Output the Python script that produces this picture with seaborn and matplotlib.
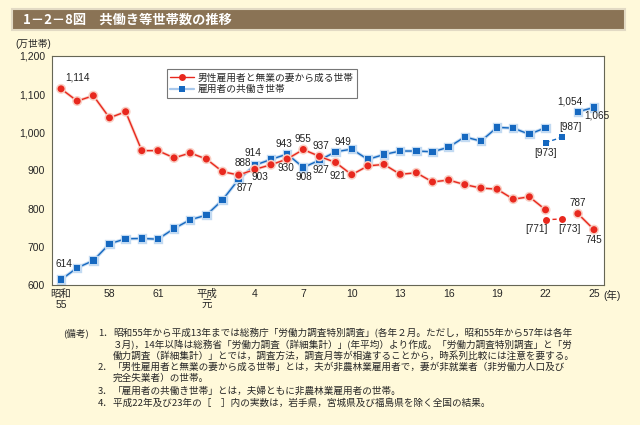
import seaborn as sns
import matplotlib.pyplot as plt
import matplotlib.patheffects as pe
from matplotlib.lines import Line2D
from matplotlib.patches import Rectangle
import pandas as pd
import numpy as np

# 年 (昭和55年=1980 ～ 平成25年=2013)
years = list(range(1980, 2014))

# 男性雇用者と無業の妻から成る世帯 (万世帯)  2011年は全国値なし
sengyo = [1114, 1082, 1096, 1038, 1054, 952, 952, 933, 946, 930,
          897, 888, 903, 915, 930, 955, 937, 921, 889, 912,
          916, 890, 894, 870, 875, 863, 854, 851, 825, 831,
          797, np.nan, 787, 745]

# 雇用者の共働き世帯 (万世帯)
tomo = [614, 645, 664, 708, 721, 722, 720, 748, 771, 783,
        823, 877, 914, 929, 943, 908, 927, 949, 956, 929,
        942, 951, 951, 949, 961, 988, 977, 1013, 1011, 995,
        1012, np.nan, 1054, 1065]

# 岩手・宮城・福島を除く全国の結果 [ ]
years_ex = [2010, 2011]
sengyo_ex = [771, 773]
tomo_ex = [973, 987]

tick_years = [1980, 1983, 1986, 1989, 1992, 1995, 1998, 2001, 2004, 2007, 2010, 2013]
tick_labels = ['昭和\n55', '58', '61', '平成\n元', '4', '7', '10', '13', '16', '19', '22', '25']

series_names = ['男性雇用者と無業の妻から成る世帯', '雇用者の共働き世帯']

notes = [
    ('(備考)', '1．', '昭和55年から平成13年までは総務庁「労働力調査特別調査」(各年２月。ただし，昭和55年から57年は各年'),
    ('', '', '３月)，14年以降は総務省「労働力調査（詳細集計）」(年平均）より作成。「労働力調査特別調査」と「労'),
    ('', '', '働力調査（詳細集計）」とでは，調査方法，調査月等が相違することから，時系列比較には注意を要する。'),
    ('', '2．', '「男性雇用者と無業の妻から成る世帯」とは，夫が非農林業雇用者で，妻が非就業者（非労働力人口及び'),
    ('', '', '完全失業者）の世帯。'),
    ('', '3．', '「雇用者の共働き世帯」とは，夫婦ともに非農林業雇用者の世帯。'),
    ('', '4．', '平成22年及び23年の［　］内の実数は，岩手県，宮城県及び福島県を除く全国の結果。'),
]

# labels: year -> pixel offset of the value text
red_lbl = {1980: (16, 11), 1991: (4, 12), 1992: (5, -8), 1994: (-1, -9), 1995: (0, 11),
           1996: (1, 10), 1997: (2, -14), 2012: (0, 11), 2013: (0, -10)}
blue_lbl = {1980: (3, 16), 1991: (6, -9), 1992: (-2, 12), 1994: (-3, 10), 1995: (1, -10),
            1996: (1, -10), 1997: (7, 10), 2012: (-8, 10), 2013: (3, -8)}
red_ex_lbl = {2010: (-9, -9), 2011: (8, -10)}
blue_ex_lbl = {2010: (0, -10), 2011: (9, 10)}

RED = '#E8281E'
BLUE = '#1568C0'
BG = '#FFF9DA'

sns.set_style('white')
plt.rcParams['font.family'] = ['Liberation Sans', 'Noto Sans CJK JP', 'DejaVu Sans']

df = pd.DataFrame({'year': years, 'sengyo': sengyo, 'tomo': tomo})
df['seg'] = np.where(df['year'] <= 2010, 0, 1)
dfx = pd.DataFrame({'year': years_ex, 'sengyo': sengyo_ex, 'tomo': tomo_ex, 'seg': 0})

fig = plt.figure(figsize=(6.4, 4.25), dpi=100, facecolor=BG)
ax = fig.add_axes([52 / 640, 1 - 285 / 425, 552 / 640, 229 / 425])
ax.set_facecolor('white')

halo_r = [pe.Stroke(linewidth=2.2, foreground='#F9CFC4'), pe.Normal()]
halo_b = [pe.Stroke(linewidth=2.4, foreground='#C2DAF2'), pe.Normal()]

sns.lineplot(data=df, x='year', y='tomo', units='seg', estimator=None, ax=ax,
             color=BLUE, marker='s', markersize=4.6, markeredgewidth=0,
             linewidth=1.0, path_effects=halo_b)
sns.lineplot(data=dfx, x='year', y='tomo', units='seg', estimator=None, ax=ax,
             color=BLUE, marker='s', markersize=4.6, markeredgewidth=0,
             linewidth=1.0, linestyle=(0, (3, 2)))
sns.lineplot(data=df, x='year', y='sengyo', units='seg', estimator=None, ax=ax,
             color=RED, marker='o', markersize=5.0, markeredgewidth=0,
             linewidth=1.0, path_effects=halo_r)
sns.lineplot(data=dfx, x='year', y='sengyo', units='seg', estimator=None, ax=ax,
             color=RED, marker='o', markersize=5.0, markeredgewidth=0,
             linewidth=1.0, linestyle=(0, (3, 2)))


def put_labels(xs, ys, offsets, bracket=False):
    for x, y in zip(xs, ys):
        if x in offsets:
            txt = f'{int(y):,}'
            if bracket:
                txt = f'[{txt}]'
            ax.annotate(txt, (x, y), xytext=offsets[x], textcoords='offset pixels',
                        ha='center', va='center', fontsize=7.2, color='#222222')


put_labels(years, sengyo, red_lbl)
put_labels(years, tomo, blue_lbl)
put_labels(years_ex, sengyo_ex, red_ex_lbl, bracket=True)
put_labels(years_ex, tomo_ex, blue_ex_lbl, bracket=True)

ax.set_xlim(1979.44, 2013.62)
ax.set_ylim(600, 1200)
ax.set_xticks(years, minor=True)
ax.set_xticks(tick_years)
ax.set_xticklabels(tick_labels, linespacing=1.05)
yt = list(range(600, 1201, 100))
ax.set_yticks(yt)
ax.set_yticklabels([f'{v:,}' for v in yt])
ax.tick_params(axis='x', which='both', direction='in', length=5, width=0.7,
               color='#555555', labelsize=7.5, pad=3)
ax.tick_params(axis='y', direction='in', length=4, width=0.7,
               color='#555555', labelsize=7.5, pad=5)
ax.set_xlabel('')
ax.set_ylabel('')
for s in ax.spines.values():
    s.set_color('#666655')
    s.set_linewidth(0.8)

handles = [
    Line2D([], [], color=RED, marker='o', markersize=5.0, markeredgewidth=0, linewidth=1.0),
    Line2D([], [], color='#A8C8EC', marker='s', markersize=4.6, markeredgewidth=0,
           markerfacecolor=BLUE, linewidth=1.6),
]
leg = ax.legend(handles, series_names, loc='upper left', bbox_to_anchor=(0.208, 0.942),
                fontsize=7, frameon=True, fancybox=False, handlelength=2.4,
                handletextpad=0.4, borderpad=0.35, labelspacing=0.15, borderaxespad=0)
leg.get_frame().set_edgecolor('#555555')
leg.get_frame().set_linewidth(0.8)

# title bar
fig.patches.append(Rectangle((12 / 640, 1 - 30 / 425), 613 / 640, 21 / 425,
                             transform=fig.transFigure, facecolor='#8A7355',
                             edgecolor='#E2DAC4', linewidth=1.5))
fig.text(23 / 640, 1 - 19.5 / 425, '1－2－8図　共働き等世帯数の推移', color='white',
         fontsize=9.5, fontweight='bold', va='center', ha='left',
         family=['Noto Sans CJK JP', 'DejaVu Sans'])

fig.text(15 / 640, 1 - 44 / 425, '(万世帯)', fontsize=7, va='center', ha='left')
fig.text(603 / 640, 1 - 295 / 425, '(年)', fontsize=7.5, va='center', ha='left')

note_y = [333, 345, 356, 367, 378, 391, 403]
for (head, num, body), yy in zip(notes, note_y):
    fy = 1 - yy / 425
    if head:
        fig.text(63 / 640, fy, head, fontsize=6.9, va='center', ha='left',
                 family=['Noto Sans CJK JP', 'DejaVu Sans'])
    if num:
        fig.text(98 / 640, fy, num, fontsize=6.9, va='center', ha='left',
                 family=['Noto Sans CJK JP', 'DejaVu Sans'])
    fig.text(113 / 640, fy, body, fontsize=6.9, va='center', ha='left',
             family=['Noto Sans CJK JP', 'DejaVu Sans'])

fig.savefig('out.png', dpi=100, facecolor=BG)
